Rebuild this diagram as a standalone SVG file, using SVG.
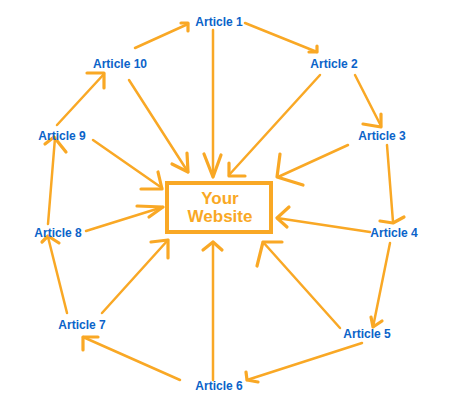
<svg xmlns="http://www.w3.org/2000/svg" width="450" height="412" viewBox="0 0 450 412">
<style>
.c path{fill:none;stroke:#F9A825;stroke-width:2.5;stroke-linecap:round;stroke-linejoin:round}
.c path.h{stroke-width:3.2}
.lbl{font-family:"Liberation Sans",Arial,sans-serif;font-weight:bold;font-size:12px;fill:#0B63C9;text-anchor:middle}
.main{font-family:"Liberation Sans",Arial,sans-serif;font-weight:bold;font-size:17px;fill:#F9A825;text-anchor:middle}
</style>
<rect width="450" height="412" fill="#fff"/>
<g class="c" id="connectors">
<!-- ring -->
<path d="M135,48 L188,24"/><path class="h" d="M181,23 L188,23 L188,31"/>
<path d="M245,23 L317,52"/><path class="h" d="M309,52 L317,52 L317,46"/>
<path d="M355,75 L381,126"/><path class="h" d="M363,124 L381,127 L381,114"/>
<path d="M387,145 L393,222"/><path class="h" d="M380,221 L393,223 L404,217"/>
<path d="M390,243 L373,327"/><path class="h" d="M371,317 L373,327 L382,321"/>
<path d="M362,343 L247,380"/><path class="h" d="M246,372 L247,380 L258,382"/>
<path d="M180,380 L83,337"/><path class="h" d="M83,350 L83,337 L98,337"/>
<path d="M67,313 L48,237"/><path class="h" d="M42,242 L48,236 L59,243"/>
<path d="M48,224 L55,138"/><path class="h" d="M45,144 L54,137 L66,152"/>
<path d="M57,125 L104,74"/><path class="h" d="M87,73 L104,73 L104,88"/>
<!-- spokes -->
<path d="M213,30 L213,177"/><path class="h" d="M204,154 L213,177 L221,155"/>
<path d="M129,80 L188,172"/><path class="h" d="M172,164 L188,172 L187,153"/>
<path d="M320,75 L229,175"/><path class="h" d="M229,163 L229,176 L245,176"/>
<path d="M348,145 L278,177"/><path class="h" d="M280,154 L277,177 L303,185"/>
<path d="M370,232 L277,218"/><path class="h" d="M289,207 L277,218 L287,227"/>
<path d="M340,328 L263,242"/><path class="h" d="M282,242 L263,242 L257,266"/>
<path d="M213,380 L213,242"/><path class="h" d="M203,250 L213,242 L222,250"/>
<path d="M102,313 L168,240"/><path class="h" d="M151,242 L168,240 L168,258"/>
<path d="M86,231 L163,207"/><path class="h" d="M137,206 L163,207 L149,217"/>
<path d="M93,140 L162,188"/><path class="h" d="M158,172 L162,189 L141,189"/>
</g>
<g id="website">
<rect x="167" y="183" width="104" height="49" fill="none" stroke="#F9A825" stroke-width="4"/>
<text class="main" x="220" y="204">Your</text>
<text class="main" x="220" y="222">Website</text>
</g>
<g id="a1"><text class="lbl" x="219" y="26">Article 1</text></g>
<g id="a2"><text class="lbl" x="334" y="68">Article 2</text></g>
<g id="a3"><text class="lbl" x="382" y="140">Article 3</text></g>
<g id="a4"><text class="lbl" x="394" y="237">Article 4</text></g>
<g id="a5"><text class="lbl" x="367" y="338">Article 5</text></g>
<g id="a6"><text class="lbl" x="219" y="390">Article 6</text></g>
<g id="a7"><text class="lbl" x="82" y="329">Article 7</text></g>
<g id="a8"><text class="lbl" x="58" y="237">Article 8</text></g>
<g id="a9"><text class="lbl" x="62" y="140">Article 9</text></g>
<g id="a10"><text class="lbl" x="120" y="68">Article 10</text></g>
</svg>
